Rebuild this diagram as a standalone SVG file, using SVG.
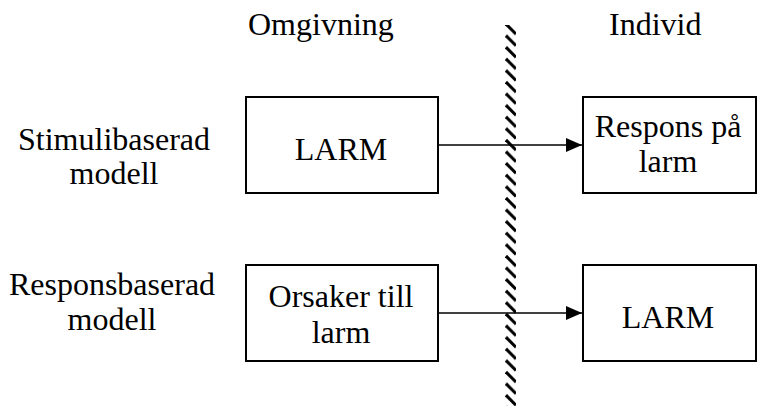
<svg xmlns="http://www.w3.org/2000/svg" width="763" height="406" viewBox="0 0 763 406">
<style>
text{font-family:"Liberation Serif","Times New Roman",serif;font-size:32px;fill:#000}
.c{text-anchor:middle}
.box{fill:#fff;stroke:#000;stroke-width:2}
.conn{stroke:#000;stroke-width:1.5;fill:none}
</style>
<defs>
<marker id="ah" markerWidth="16" markerHeight="14" refX="16" refY="7" orient="auto" markerUnits="userSpaceOnUse">
<path d="M0,0 L16,7 L0,14 Z" fill="#000"/>
</marker>
<pattern id="hatch" patternUnits="userSpaceOnUse" x="505" y="25" width="12" height="11.6">
<line x1="1" y1="-1" x2="11" y2="9" stroke="#000" stroke-width="3"/>
<line x1="1" y1="10.6" x2="11" y2="20.6" stroke="#000" stroke-width="3"/>
</pattern>
</defs>
<g id="header-omgivning"><text x="248" y="35">Omgivning</text></g>
<g id="header-individ"><text x="609" y="35">Individ</text></g>
<g id="label-stimuli"><text class="c" x="114" y="150">Stimulibaserad</text><text class="c" x="114" y="184">modell</text></g>
<g id="label-respons"><text class="c" x="112" y="295">Responsbaserad</text><text class="c" x="112" y="330">modell</text></g>
<g id="boundary"><rect x="505" y="25" width="11" height="381" fill="url(#hatch)"/></g>
<g id="connectors">
<line class="conn" x1="438" y1="145" x2="582" y2="145" marker-end="url(#ah)"/>
<line class="conn" x1="438" y1="313" x2="582" y2="313" marker-end="url(#ah)"/>
</g>
<g id="node-larm1"><rect class="box" x="246" y="97" width="192" height="96"/><text class="c" x="341" y="160">LARM</text></g>
<g id="node-respons"><rect class="box" x="583" y="97" width="173" height="96"/><text class="c" x="668" y="137">Respons på</text><text class="c" x="668" y="172">larm</text></g>
<g id="node-orsaker"><rect class="box" x="246" y="265" width="192" height="96"/><text class="c" x="341" y="307">Orsaker till</text><text class="c" x="341" y="343">larm</text></g>
<g id="node-larm2"><rect class="box" x="583" y="265" width="173" height="96"/><text class="c" x="668" y="328">LARM</text></g>
</svg>
